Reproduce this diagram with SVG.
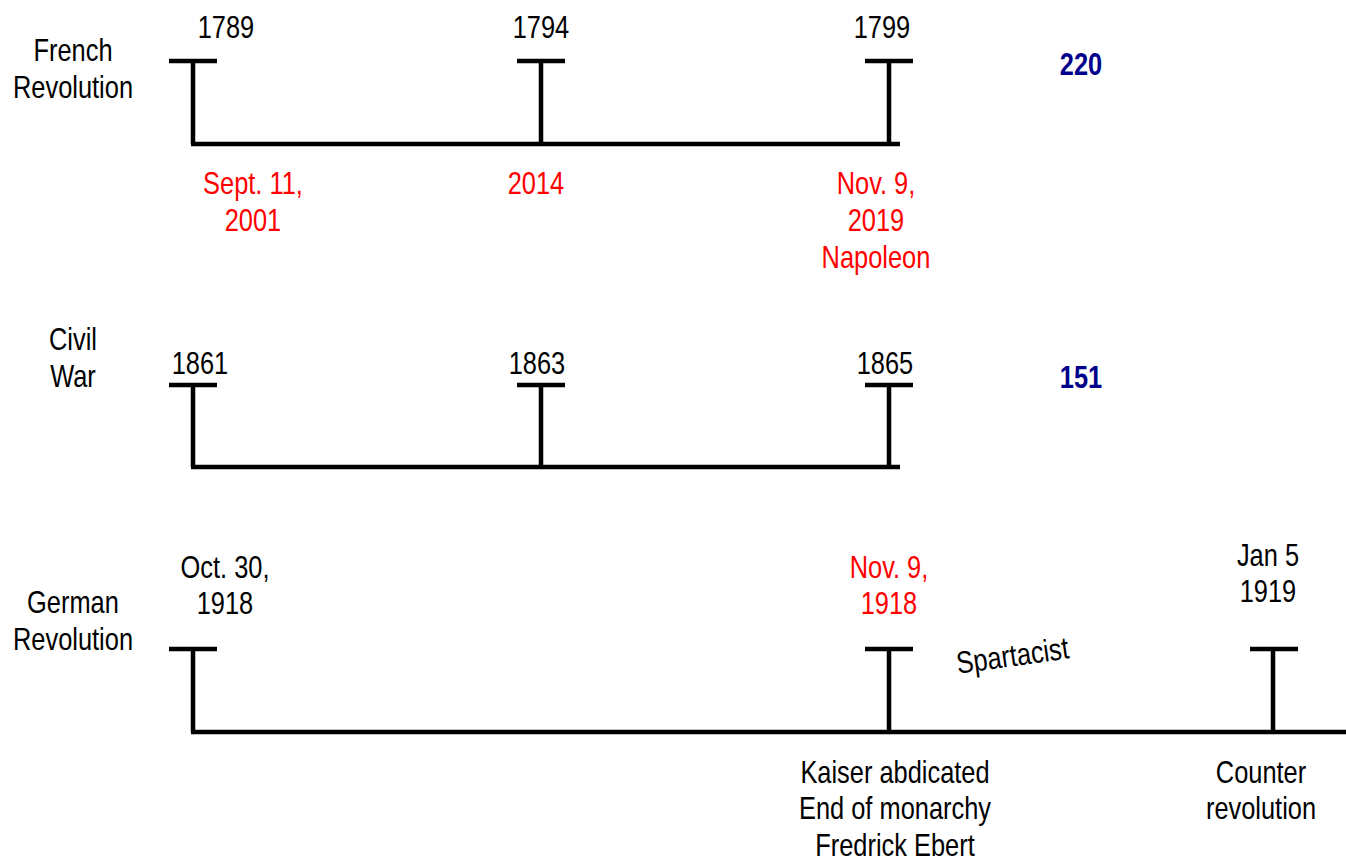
<svg xmlns="http://www.w3.org/2000/svg" width="1346" height="856" viewBox="0 0 1346 856">
<style>
text{font-family:"Liberation Sans Narrow","Arial Narrow","Liberation Sans",sans-serif;font-size:31px;text-anchor:middle;fill:#000}
.red{fill:#ff0000}
.num{fill:#00008b;font-weight:bold}
.ln{stroke:#000;stroke-width:4.5;fill:none;stroke-linecap:butt}
</style>
<rect width="1346" height="856" fill="#fff"/>
<g id="connectors">
<path class="ln" d="M169 61H217M193 61V144M517 61H565M541 61V144M865 61H913M889 61V144M191 144H900"/>
<path class="ln" d="M169 385H217M193 385V467M517 385H565M541 385V467M865 385H913M889 385V467M191 467H900"/>
<path class="ln" d="M169 649H217M193 649V732M865 649H913M889 649V732M1250 649H1298M1273 649V732M191 732H1346"/>
</g>
<g id="french">
<text transform="translate(73 61) scale(0.82 1)">French</text>
<text transform="translate(73 98) scale(0.82 1)">Revolution</text>
<text transform="translate(226 38) scale(0.82 1)">1789</text>
<text transform="translate(541 38) scale(0.82 1)">1794</text>
<text transform="translate(882 38) scale(0.82 1)">1799</text>
<text class="num" transform="translate(1081 75) scale(0.82 1)">220</text>
<text class="red" transform="translate(253 194) scale(0.82 1)">Sept. 11,</text>
<text class="red" transform="translate(253 231) scale(0.82 1)">2001</text>
<text class="red" transform="translate(536 194) scale(0.82 1)">2014</text>
<text class="red" transform="translate(876 194) scale(0.82 1)">Nov. 9,</text>
<text class="red" transform="translate(876 231) scale(0.82 1)">2019</text>
<text class="red" transform="translate(876 268) scale(0.82 1)">Napoleon</text>
</g>
<g id="civil">
<text transform="translate(73 350) scale(0.82 1)">Civil</text>
<text transform="translate(73 387) scale(0.82 1)">War</text>
<text transform="translate(200 374) scale(0.82 1)">1861</text>
<text transform="translate(537 374) scale(0.82 1)">1863</text>
<text transform="translate(885 374) scale(0.82 1)">1865</text>
<text class="num" transform="translate(1081 388) scale(0.82 1)">151</text>
</g>
<g id="german">
<text transform="translate(73 613) scale(0.82 1)">German</text>
<text transform="translate(73 650) scale(0.82 1)">Revolution</text>
<text transform="translate(225 578) scale(0.82 1)">Oct. 30,</text>
<text transform="translate(225 614) scale(0.82 1)">1918</text>
<text class="red" transform="translate(889 578) scale(0.82 1)">Nov. 9,</text>
<text class="red" transform="translate(889 614) scale(0.82 1)">1918</text>
<text transform="translate(1268 566) scale(0.82 1)">Jan 5</text>
<text transform="translate(1268 602) scale(0.82 1)">1919</text>
<text transform="translate(1014 666) rotate(-8) scale(0.82 1)">Spartacist</text>
<text transform="translate(895 783) scale(0.82 1)">Kaiser abdicated</text>
<text transform="translate(895 819) scale(0.82 1)">End of monarchy</text>
<text transform="translate(895 856) scale(0.82 1)">Fredrick Ebert</text>
<text transform="translate(1261 783) scale(0.82 1)">Counter</text>
<text transform="translate(1261 819) scale(0.82 1)">revolution</text>
</g>
</svg>
